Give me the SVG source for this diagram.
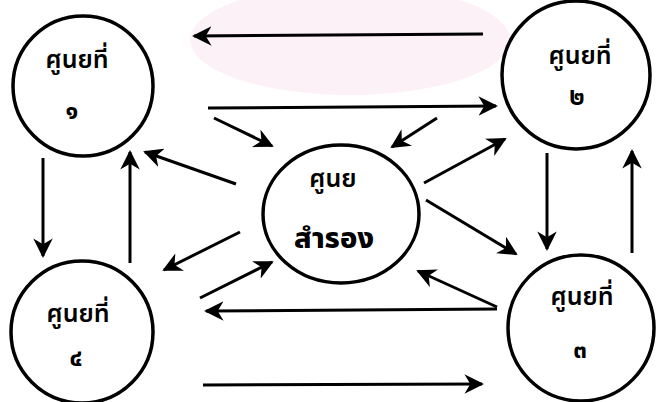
<svg xmlns="http://www.w3.org/2000/svg" width="658" height="402" viewBox="0 0 658 402">
<defs>
<style>
.node{fill:none;stroke:#000;stroke-width:3.5}
.lbl{font-family:"Noto Sans Thai","Noto Sans","DejaVu Sans",sans-serif;font-size:25px;font-weight:600;fill:#000;text-anchor:middle}
.big{font-size:29px;font-weight:800}
.num{font-family:"Noto Sans Thai","Noto Sans","DejaVu Sans",sans-serif;font-size:24px;font-weight:bold;fill:#000;text-anchor:middle}
.con line{stroke:#000;stroke-width:3;marker-end:url(#ah)}
</style>
<marker id="ah" viewBox="0 0 10 10" refX="9" refY="5" markerWidth="6.5" markerHeight="6.5" orient="auto" markerUnits="strokeWidth">
<path d="M0,0 L10,5 L0,10 L3,5 Z" fill="#000"/>
</marker>
</defs>
<rect width="658" height="402" fill="#fff"/>
<ellipse id="bg" cx="350" cy="40" rx="160" ry="55" fill="#fcf1f6"/>
<g class="con" id="connectors">
<line x1="483" y1="34" x2="194" y2="36"/>
<line x1="208" y1="108" x2="496" y2="106"/>
<line x1="497" y1="309" x2="206" y2="311"/>
<line x1="203" y1="385" x2="482" y2="384"/>
<line x1="43" y1="158" x2="43" y2="256"/>
<line x1="130" y1="263" x2="130" y2="152"/>
<line x1="547" y1="153" x2="547" y2="249"/>
<line x1="632" y1="253" x2="632" y2="151"/>
<line x1="214" y1="118" x2="272" y2="146"/>
<line x1="236" y1="184" x2="145" y2="152"/>
<line x1="240" y1="232" x2="164" y2="270"/>
<line x1="200" y1="298" x2="272" y2="262"/>
<line x1="437" y1="118" x2="392" y2="147"/>
<line x1="424" y1="183" x2="505" y2="139"/>
<line x1="426" y1="200" x2="516" y2="254"/>
<line x1="497" y1="307" x2="418" y2="271"/>
</g>
<g id="n1">
<circle class="node" cx="83" cy="86" r="70"/>
<text class="lbl" x="77" y="68">ศูนยที่</text>
<text class="num" x="72" y="119">๑</text>
</g>
<g id="n2">
<circle class="node" cx="576" cy="75" r="74"/>
<text class="lbl" x="580" y="64">ศูนยที่</text>
<text class="num" x="577" y="105">๒</text>
</g>
<g id="center">
<ellipse class="node" cx="341" cy="214" rx="78" ry="69"/>
<text class="lbl" x="333" y="187">ศูนย</text>
<text class="lbl big" x="334" y="248">สำรอง</text>
</g>
<g id="n4">
<circle class="node" cx="82" cy="332" r="71"/>
<text class="lbl" x="78" y="322">ศูนยที่</text>
<text class="num" x="76" y="366">๔</text>
</g>
<g id="n3">
<circle class="node" cx="581" cy="328" r="73"/>
<text class="lbl" x="582" y="305">ศูนยที่</text>
<text class="num" x="580" y="358">๓</text>
</g>
</svg>
